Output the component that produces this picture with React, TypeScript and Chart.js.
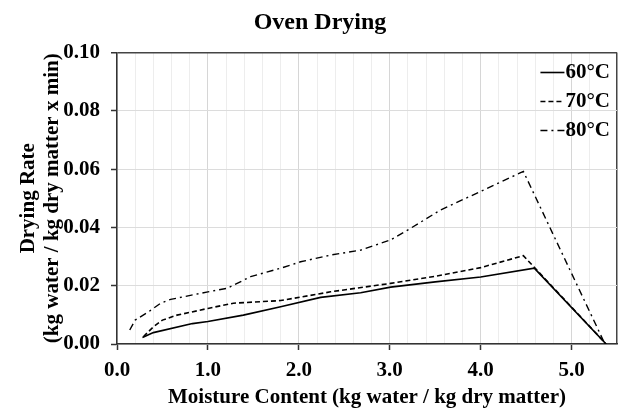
import { useEffect, useRef } from "react"
import Chart from "chart.js/auto"

// moisture content (kg water / kg dry matter) and drying rate for each temperature
const moisture60 = [0.28, 0.4, 0.83, 1.0, 1.39, 1.8, 2.24, 2.68, 3.01, 3.5, 4.0, 4.59, 5.38]
const rate60 = [0.0022, 0.0039, 0.007, 0.0077, 0.0099, 0.0128, 0.016, 0.0176, 0.0195, 0.0213, 0.023, 0.026, 0]

const moisture70 = [0.29, 0.4, 0.5, 0.66, 1.0, 1.28, 1.8, 2.35, 3.01, 3.5, 4.0, 4.47, 5.38]
const rate70 = [0.0025, 0.0059, 0.0082, 0.0099, 0.0122, 0.014, 0.0149, 0.0179, 0.0208, 0.0232, 0.0262, 0.0303, 0]

const moisture80 = [0.14, 0.2, 0.35, 0.48, 0.59, 1.0, 1.21, 1.47, 1.8, 2.02, 2.35, 2.68, 3.01, 3.23, 3.56, 3.99, 4.47, 5.36]
const rate80 = [0.0048, 0.0082, 0.0111, 0.014, 0.0153, 0.0179, 0.0191, 0.0231, 0.026, 0.0282, 0.0305, 0.0322, 0.0357, 0.0397, 0.046, 0.0522, 0.0592, 0.0005]

const seriesLabels = ["60°C", "70°C", "80°C"]

const FONT = "'Liberation Serif', 'Times New Roman', serif"
const isMajor = (v: number) => Math.abs(v - Math.round(v)) < 1e-6

// legend drawn inside the plot, top right, sample line left of the text
const insideLegend = {
  id: "insideLegend",
  afterDraw(chart: any) {
    const { ctx, chartArea } = chart
    ctx.save()
    ctx.font = `bold 21px ${FONT}`
    ctx.textAlign = "right"
    ctx.textBaseline = "middle"
    chart.data.datasets.forEach((ds: any, i: number) => {
      const y = chartArea.top + 20 + i * 29
      const textRight = chartArea.right - 7
      const w = ctx.measureText(ds.label).width
      const lineEnd = textRight - w - 1
      ctx.setLineDash(ds.borderDash || [])
      ctx.lineWidth = ds.borderWidth
      ctx.strokeStyle = ds.borderColor
      ctx.beginPath()
      ctx.moveTo(lineEnd - 24, y)
      ctx.lineTo(lineEnd, y)
      ctx.stroke()
      ctx.setLineDash([])
      ctx.fillStyle = "#000"
      ctx.fillText(ds.label, textRight, y)
    })
    ctx.restore()
  },
}

export default function App() {
  const chartRef = useRef<HTMLCanvasElement>(null)
  const chartInstance = useRef<Chart | null>(null)

  useEffect(() => {
    if (!chartRef.current) return
    const ctx = chartRef.current.getContext("2d")
    if (!ctx) return

    if (chartInstance.current) {
      chartInstance.current.destroy()
    }

    chartInstance.current = new Chart(ctx, {
      type: "line",
      data: {
        datasets: [
          {
            label: seriesLabels[0],
            data: moisture60.map((x, i) => ({ x, y: rate60[i] })),
            borderColor: "#000",
            borderWidth: 1.6,
            pointRadius: 0,
            borderDash: [],
          },
          {
            label: seriesLabels[1],
            data: moisture70.map((x, i) => ({ x, y: rate70[i] })),
            borderColor: "#000",
            borderWidth: 1.6,
            pointRadius: 0,
            borderDash: [5, 3],
          },
          {
            label: seriesLabels[2],
            data: moisture80.map((x, i) => ({ x, y: rate80[i] })),
            borderColor: "#000",
            borderWidth: 1.4,
            pointRadius: 0,
            borderDash: [7, 4, 2, 4],
          },
        ],
      },
      options: {
        responsive: true,
        maintainAspectRatio: false,
        animation: false,
        layout: { padding: 0 },
        plugins: {
          legend: { display: false },
          tooltip: { enabled: false },
          title: {
            display: true,
            text: "Oven Drying",
            color: "#000",
            font: { family: FONT, size: 24, weight: "bold" },
            padding: { top: 8, bottom: 15.7 },
          },
        },
        scales: {
          x: {
            type: "linear",
            min: 0,
            max: 5.5,
            afterFit: (scale: any) => {
              scale.height = 74
            },
            ticks: {
              stepSize: 0.2,
              autoSkip: false,
              maxRotation: 0,
              padding: 8,
              color: "#000",
              font: { family: FONT, size: 21, weight: "bold" },
              callback: (value: any) => (isMajor(Number(value)) ? Number(value).toFixed(1) : ""),
            },
            grid: {
              tickLength: 6,
              color: (c: any) => {
                const v = c.tick ? c.tick.value : 0
                if (Math.abs(v - 5.5) < 1e-6) return "#444"
                return isMajor(v) ? "#d6d6d6" : "#ededed"
              },
              lineWidth: (c: any) => (c.tick && Math.abs(c.tick.value - 5.5) < 1e-6 ? 1.5 : 1),
              tickColor: (c: any) => (c.tick && isMajor(c.tick.value) ? "#333" : "transparent"),
              tickWidth: 1.5,
            },
            border: { color: "#333", width: 1.5 },
            title: {
              display: true,
              text: "Moisture Content (kg water / kg dry matter)",
              color: "#000",
              font: { family: FONT, size: 21, weight: "bold" },
              padding: { top: 0, bottom: 8 },
            },
          },
          y: {
            min: 0,
            max: 0.1,
            afterFit: (scale: any) => {
              scale.width = 117
            },
            ticks: {
              stepSize: 0.02,
              padding: 11,
              color: "#000",
              font: { family: FONT, size: 21, weight: "bold" },
              callback: (value: any) => Number(value).toFixed(2),
            },
            grid: {
              tickLength: 6,
              color: (c: any) => (c.tick && Math.abs(c.tick.value - 0.1) < 1e-6 ? "#444" : "#dcdcdc"),
              lineWidth: (c: any) => (c.tick && Math.abs(c.tick.value - 0.1) < 1e-6 ? 1.5 : 1),
              tickColor: "#333",
              tickWidth: 1.5,
            },
            border: { color: "#333", width: 1.5 },
            title: {
              display: true,
              text: ["Drying Rate", "(kg water / kg dry matter x min)"],
              color: "#000",
              font: { family: FONT, size: 21, weight: "bold", lineHeight: 1.1 },
              padding: { top: 17.5, bottom: 0 },
            },
          },
          // empty right-hand axis: keeps the plot's right margin while the title stays centred on the page
          yRight: {
            position: "right",
            min: 0,
            max: 1,
            afterFit: (scale: any) => {
              scale.width = 23
            },
            ticks: { display: false },
            grid: { display: false, drawTicks: false },
            border: { display: false },
          },
        },
      },
      plugins: [insideLegend],
    })

    return () => {
      if (chartInstance.current) {
        chartInstance.current.destroy()
        chartInstance.current = null
      }
    }
  }, [])

  return (
    <div style={{ position: "fixed", left: 0, top: 0, width: 640, height: 418, background: "#fff" }}>
      <canvas ref={chartRef} aria-label="Oven drying rate chart" role="img"></canvas>
    </div>
  )
}
